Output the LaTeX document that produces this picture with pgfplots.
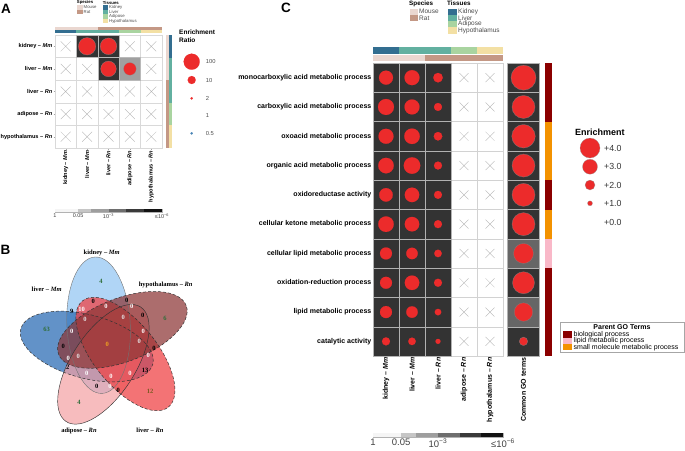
\documentclass[border=0pt]{standalone}
\usepackage{pgfplots}
\pgfplotsset{compat=1.18}
\usepackage{pgfplotstable}
\usepackage{fontspec}
\setmainfont{Liberation Sans}
\newfontfamily\vennfont{Liberation Serif}

\definecolor{cdark}{HTML}{333333}
\definecolor{cgray}{HTML}{A0A0A0}
\definecolor{cmid}{HTML}{666666}
\definecolor{dotred}{HTML}{EC2B2B}
\definecolor{dotblue}{HTML}{4682B4}
\definecolor{tkid}{HTML}{336E90}
\definecolor{tliv}{HTML}{62B0A0}
\definecolor{tadi}{HTML}{A9D4A0}
\definecolor{thyp}{HTML}{F3E0A4}
\definecolor{smou}{HTML}{EAD7D0}
\definecolor{srat}{HTML}{C49885}
\definecolor{gobio}{HTML}{8B0000}
\definecolor{golip}{HTML}{F9B8C8}
\definecolor{gosml}{HTML}{F39200}
\definecolor{vkid}{HTML}{8EC3F2}
\definecolor{vlmm}{HTML}{2E6DB5}
\definecolor{vhyp}{HTML}{8C3535}
\definecolor{vadi}{HTML}{F4A0A3}
\definecolor{vlrn}{HTML}{EF4447}
\definecolor{vgreen}{HTML}{2F6E3A}
\definecolor{volive}{HTML}{7A5A20}
\definecolor{vorange}{HTML}{F0A020}
\definecolor{cb1}{HTML}{F5F5F5}
\definecolor{cb2}{HTML}{C6C6C6}
\definecolor{cb3}{HTML}{9E9E9E}
\definecolor{cb4}{HTML}{6E6E6E}
\definecolor{cb5}{HTML}{3A3A3A}
\definecolor{cb6}{HTML}{121212}

% cell-shaped marks, 1pt = 1px of the reference
\pgfdeclareplotmark{cellA}{\pgfpathrectangle{\pgfpoint{-10.7pt}{-11.3pt}}{\pgfpoint{21.4pt}{22.6pt}}\pgfusepathqfillstroke}
\pgfdeclareplotmark{annAh}{\pgfpathrectangle{\pgfpoint{-10.7pt}{-1.65pt}}{\pgfpoint{21.4pt}{3.3pt}}\pgfusepathqfill}
\pgfdeclareplotmark{annAv}{\pgfpathrectangle{\pgfpoint{-1.65pt}{-11.3pt}}{\pgfpoint{3.3pt}{22.6pt}}\pgfusepathqfill}
\pgfdeclareplotmark{cellC}{\pgfpathrectangle{\pgfpoint{-13pt}{-14.65pt}}{\pgfpoint{26pt}{29.3pt}}\pgfusepathqfillstroke}
\pgfdeclareplotmark{cellCm}{\pgfpathrectangle{\pgfpoint{-16pt}{-14.65pt}}{\pgfpoint{32pt}{29.3pt}}\pgfusepathqfillstroke}
\pgfdeclareplotmark{annCh}{\pgfpathrectangle{\pgfpoint{-13pt}{-3.25pt}}{\pgfpoint{26pt}{6.5pt}}\pgfusepathqfill}
\pgfdeclareplotmark{gobar}{\pgfpathrectangle{\pgfpoint{-3.5pt}{-14.65pt}}{\pgfpoint{7pt}{29.3pt}}\pgfusepathqfill}

\newcommand\rbox[5]{\addplot[fill=#5, draw=none] coordinates {(#1,#2) (#3,#2) (#3,#4) (#1,#4)};}
\newcommand\seg[3]{\addplot[fill=#3, draw=none] coordinates {(#1,0) (#2,0) (#2,1) (#1,1)};}
\newcommand\fA{\fontsize{5.6}{6}\selectfont\bfseries}
\newcommand\fC{\fontsize{7}{8}\selectfont\bfseries}
\newcommand\fV{\vennfont\bfseries\fontsize{6.5}{7}\selectfont}

% panel A: white cells (no enrichment)
\pgfplotstableread{
x y
0 4
3 4
4 4
0 3
1 3
4 3
0 2
1 2
2 2
3 2
4 2
0 1
1 1
2 1
3 1
4 1
0 0
1 0
2 0
3 0
4 0
}\Awhite

% panel C: white cells
\pgfplotstableread{
x y
3 9
4 9
3 8
4 8
3 7
4 7
3 6
4 6
3 5
4 5
3 4
4 4
3 3
4 3
3 2
4 2
3 1
4 1
3 0
4 0
}\Cwhite

\begin{document}
\begin{tikzpicture}
\useasboundingbox (0,0) rectangle (685pt,-450pt);

% ---------------- canvas: legends, letters, Venn ----------------
\begin{axis}[at={(0pt,0pt)}, anchor=north west, width=685pt, height=450pt,
  scale only axis, xmin=0, xmax=685, ymin=0, ymax=450, y dir=reverse,
  hide axis, clip=false]

\node[font=\fontsize{13.5}{14}\selectfont\bfseries] at (axis cs:6,8.5) {A};
\node[font=\fontsize{13.5}{14}\selectfont\bfseries] at (axis cs:5.5,250) {B};
\node[font=\fontsize{13.5}{14}\selectfont\bfseries] at (axis cs:286,8.3) {C};

% A: species / tissues legend
\node[anchor=west, inner sep=0, font=\fontsize{4.3}{4.5}\selectfont\bfseries] at (axis cs:76.7,2.5) {Species};
\rbox{76.7}{5}{82.5}{9.6}{smou}
\rbox{76.7}{9.6}{82.5}{14.2}{srat}
\node[anchor=west, inner sep=0, font=\fontsize{4.3}{4.5}\selectfont, text=black!70] at (axis cs:83.5,7.3) {Mouse};
\node[anchor=west, inner sep=0, font=\fontsize{4.3}{4.5}\selectfont, text=black!70] at (axis cs:83.5,11.9) {Rat};
\node[anchor=west, inner sep=0, font=\fontsize{4.3}{4.5}\selectfont\bfseries] at (axis cs:102.7,2.5) {Tissues};
\rbox{102.7}{5}{108.3}{9.6}{tkid}
\rbox{102.7}{9.6}{108.3}{14.2}{tliv}
\rbox{102.7}{14.2}{108.3}{18.8}{tadi}
\rbox{102.7}{18.8}{108.3}{23.4}{thyp}
\node[anchor=west, inner sep=0, font=\fontsize{4.3}{4.5}\selectfont, text=black!70] at (axis cs:109,7.3) {Kidney};
\node[anchor=west, inner sep=0, font=\fontsize{4.3}{4.5}\selectfont, text=black!70] at (axis cs:109,11.9) {Liver};
\node[anchor=west, inner sep=0, font=\fontsize{4.3}{4.5}\selectfont, text=black!70] at (axis cs:109,16.5) {Adipose};
\node[anchor=west, inner sep=0, font=\fontsize{4.3}{4.5}\selectfont, text=black!70] at (axis cs:109,21.1) {Hypothalamus};

% A: enrichment ratio legend
\node[anchor=west, inner sep=0, font=\fontsize{6.5}{7}\selectfont\bfseries] at (axis cs:179,32.5) {Enrichment};
\node[anchor=west, inner sep=0, font=\fontsize{6.5}{7}\selectfont\bfseries] at (axis cs:179,40) {Ratio};
\addplot[scatter, only marks, mark=*,
  scatter/use mapped color={draw=dotred, fill=dotred},
  visualization depends on={4*abs(log10(\thisrow{v})) \as \rad},
  scatter/@pre marker code/.append style={/tikz/mark size=\rad}, line width=0.1pt] table {
x y v
191.7 61.7 100
191.7 80 10
191.7 98.3 2
};
\addplot[scatter, only marks, mark=*,
  scatter/use mapped color={draw=dotblue, fill=dotblue},
  visualization depends on={4*abs(log10(\thisrow{v})) \as \rad},
  scatter/@pre marker code/.append style={/tikz/mark size=\rad}, line width=0.1pt] table {
x y v
191.7 133.3 0.5
};
\foreach \yy/\lbl in {61.7/100, 80/10, 98.3/2, 115.7/1, 133.3/0.5}{
  \edef\tmp{\noexpand\node[anchor=west, inner sep=0, font=\noexpand\fontsize{5.8}{6}\noexpand\selectfont, text=black!70] at (axis cs:205.7,\yy) {\lbl};}\tmp
}

% C: species / tissues legend
\node[anchor=west, inner sep=0, font=\fontsize{6.3}{6.5}\selectfont\bfseries] at (axis cs:409,3.6) {Species};
\rbox{410}{8.5}{417.5}{14.8}{smou}
\rbox{410}{14.8}{417.5}{21.1}{srat}
\node[anchor=west, inner sep=0, font=\fontsize{6.5}{6.5}\selectfont, text=black!70] at (axis cs:419,11.65) {Mouse};
\node[anchor=west, inner sep=0, font=\fontsize{6.5}{6.5}\selectfont, text=black!70] at (axis cs:419,17.95) {Rat};
\node[anchor=west, inner sep=0, font=\fontsize{6.3}{6.5}\selectfont\bfseries] at (axis cs:447,3.6) {Tissues};
\rbox{448}{8.5}{457}{14.8}{tkid}
\rbox{448}{14.8}{457}{21.1}{tliv}
\rbox{448}{21.1}{457}{27.4}{tadi}
\rbox{448}{27.4}{457}{33.7}{thyp}
\node[anchor=west, inner sep=0, font=\fontsize{6.5}{6.5}\selectfont, text=black!70] at (axis cs:458,11.65) {Kidney};
\node[anchor=west, inner sep=0, font=\fontsize{6.5}{6.5}\selectfont, text=black!70] at (axis cs:458,17.95) {Liver};
\node[anchor=west, inner sep=0, font=\fontsize{6.5}{6.5}\selectfont, text=black!70] at (axis cs:458,24.25) {Adipose};
\node[anchor=west, inner sep=0, font=\fontsize{6.5}{6.5}\selectfont, text=black!70] at (axis cs:458,30.55) {Hypothalamus};

% C: enrichment legend
\node[anchor=west, inner sep=0, font=\fontsize{9}{9}\selectfont\bfseries] at (axis cs:575,132) {Enrichment};
\addplot[scatter, only marks, mark=*,
  scatter/use mapped color={draw=black!40, fill=dotred},
  visualization depends on={2.5*\thisrow{e} \as \rad},
  scatter/@pre marker code/.append style={/tikz/mark size=\rad}, line width=0.2pt] table {
x y e
590 148 4
590 166.7 3
590 185 2
590 203.3 1
};
\foreach \yy/\lbl in {148/+4.0, 166.7/+3.0, 185/+2.0, 203.3/+1.0, 222/+0.0}{
  \edef\tmp{\noexpand\node[anchor=west, inner sep=0, font=\noexpand\fontsize{8.8}{9}\noexpand\selectfont, text=black!80] at (axis cs:604,\yy) {\lbl};}\tmp
}

% C: parent GO terms legend
\addplot[draw=gray!70, fill=white, line width=0.5pt] coordinates {(560,322) (684,322) (684,352.3) (560,352.3) (560,322)};
\node[font=\fontsize{7}{7}\selectfont\bfseries, inner sep=0] at (axis cs:622,327.3) {Parent GO Terms};
\rbox{563}{331.3}{571.5}{337.7}{gobio}
\rbox{563}{337.7}{571.5}{344}{golip}
\rbox{563}{344}{571.5}{350.3}{gosml}
\node[anchor=west, inner sep=0, font=\fontsize{7}{7}\selectfont] at (axis cs:573.5,334.4) {biological process};
\node[anchor=west, inner sep=0, font=\fontsize{7}{7}\selectfont] at (axis cs:573.5,340.8) {lipid metabolic process};
\node[anchor=west, inner sep=0, font=\fontsize{7}{7}\selectfont] at (axis cs:573.5,347.2) {small molecule metabolic process};

% B: Venn diagram, fills first, outlines on top
\fill[vkid, fill opacity=0.7, rotate around={93:(axis cs:98.6,325.2)}]
  (axis cs:98.6,325.2) ellipse [x radius=68.3pt, y radius=31.7pt];
\fill[vlmm, fill opacity=0.75, rotate around={165:(axis cs:86.8,346.5)}]
  (axis cs:86.8,346.5) ellipse [x radius=68.3pt, y radius=31.7pt];
\fill[vadi, fill opacity=0.7, rotate around={-123:(axis cs:103.4,364.3)}]
  (axis cs:103.4,364.3) ellipse [x radius=68.3pt, y radius=31.7pt];
\fill[vlrn, fill opacity=0.75, rotate around={-51:(axis cs:125.4,354)}]
  (axis cs:125.4,354) ellipse [x radius=68.3pt, y radius=31.7pt];
\fill[vhyp, fill opacity=0.72, rotate around={21:(axis cs:122.4,329.9)}]
  (axis cs:122.4,329.9) ellipse [x radius=68.3pt, y radius=31.7pt];
\draw[black!55, line width=0.4pt, rotate around={93:(axis cs:98.6,325.2)}]
  (axis cs:98.6,325.2) ellipse [x radius=68.3pt, y radius=31.7pt];
\draw[black!80, densely dashed, line width=0.5pt, rotate around={165:(axis cs:86.8,346.5)}]
  (axis cs:86.8,346.5) ellipse [x radius=68.3pt, y radius=31.7pt];
\draw[black!80, line width=0.45pt, rotate around={-123:(axis cs:103.4,364.3)}]
  (axis cs:103.4,364.3) ellipse [x radius=68.3pt, y radius=31.7pt];
\draw[black!80, densely dashed, line width=0.5pt, rotate around={-51:(axis cs:125.4,354)}]
  (axis cs:125.4,354) ellipse [x radius=68.3pt, y radius=31.7pt];
\draw[black!80, densely dashed, line width=0.5pt, rotate around={21:(axis cs:122.4,329.9)}]
  (axis cs:122.4,329.9) ellipse [x radius=68.3pt, y radius=31.7pt];

\addplot[draw=none, nodes near coords, point meta=explicit symbolic,
  nodes near coords style={anchor=center, inner sep=0, font=\fV, text=vgreen}] table[meta=l] {
x y l
101 281.7 4
165 318.3 6
46.7 329.3 63
79 402.3 4
};
\addplot[draw=none, nodes near coords, point meta=explicit symbolic,
  nodes near coords style={anchor=center, inner sep=0, font=\fV, text=volive}] table[meta=l] {
x y l
150 391.7 12
};
\addplot[draw=none, nodes near coords, point meta=explicit symbolic,
  nodes near coords style={anchor=center, inner sep=0, font=\fV, text=vorange}] table[meta=l] {
x y l
107.3 344 0
};
\addplot[draw=none, nodes near coords, point meta=explicit symbolic,
  nodes near coords style={anchor=center, inner sep=0, font=\fV, text=black}] table[meta=l] {
x y l
93.3 301.7 0
126.7 300 0
71.7 311.7 9
142.7 315 0
63.3 346.7 0
154 348.3 0
67.7 367.3 2
145 370 13
96.7 386.7 0
118.3 390 0
};
\addplot[draw=none, nodes near coords, point meta=explicit symbolic,
  nodes near coords style={anchor=center, inner sep=0, font=\fV, text=white}] table[meta=l] {
x y l
81.7 309.3 10
106 306.7 0
131.7 306.7 0
71.7 331.7 0
143.3 331.7 0
68.3 358.3 0
148.3 355 0
86.7 373.3 0
111 376.7 0
130 373.3 0
110 386.7 0
};
\addplot[draw=none, nodes near coords, point meta=explicit symbolic,
  nodes near coords style={anchor=center, inner sep=0, font=\fV, text=white!80!gray}] table[meta=l] {
x y l
85 319.3 0
123.3 317.3 0
139.3 341.7 0
78.3 356.7 0
};
\node[font=\fV] at (axis cs:101.7,252.7) {kidney – \textit{Mm}};
\node[font=\fV] at (axis cs:46.7,289.3) {liver – \textit{Mm}};
\node[font=\fV] at (axis cs:165.7,285) {hypothalamus – \textit{Rn}};
\node[font=\fV] at (axis cs:79,430.7) {adipose – \textit{Rn}};
\node[font=\fV] at (axis cs:150,430.7) {liver – \textit{Rn}};
\end{axis}

% ---------------- panel A heatmap ----------------
\begin{axis}[at={(55pt,-35pt)}, anchor=north west, width=107pt, height=113pt,
  scale only axis, xmin=-0.5, xmax=4.5, ymin=-0.5, ymax=4.5, clip=false,
  axis line style={draw=gray!50, line width=0.4pt},
  xtick={0,...,4}, ytick={0,...,4},
  xticklabels={kidney – \textit{Mm}, liver – \textit{Mm}, liver – \textit{Rn}, adipose – \textit{Rn}, hypothalamus – \textit{Rn}},
  yticklabels={hypothalamus – \textit{Rn}, adipose – \textit{Rn}, liver – \textit{Rn}, liver – \textit{Mm}, kidney – \textit{Mm}},
  x tick label style={rotate=90, anchor=east, font=\fA, inner sep=1pt},
  y tick label style={font=\fA, inner sep=1pt},
  tick align=outside, major tick length=1.5pt, tick style={draw=gray!70, line width=0.3pt},
  xtick pos=lower, ytick pos=left]
\addplot[only marks, mark=cellA, mark options={fill=white, draw=gray!30}] table {\Awhite};
\addplot[scatter, only marks, point meta=explicit symbolic,
  scatter/classes={d={mark=cellA, fill=cdark, draw=gray!55}, g={mark=cellA, fill=cgray, draw=gray!55}}]
  table[meta=c] {
x y c
1 4 d
2 4 d
2 3 d
3 3 g
};
\addplot[only marks, mark=x, mark size=7pt, color=gray!60, line width=0.35pt] table {\Awhite};
\addplot[scatter, only marks, mark=*,
  scatter/use mapped color={draw=black!45, fill=dotred},
  visualization depends on={4*log10(\thisrow{r}) \as \rad},
  scatter/@pre marker code/.append style={/tikz/mark size=\rad}, line width=0.2pt] table {
x y r
1 4 150
2 4 120
2 3 90
3 3 38
};
% annotation strips: species and tissue
\addplot[scatter, only marks, point meta=explicit symbolic,
  scatter/classes={M={mark=annAh, fill=smou}, R={mark=annAh, fill=srat},
    K={mark=annAh, fill=tkid}, L={mark=annAh, fill=tliv}, A={mark=annAh, fill=tadi}, H={mark=annAh, fill=thyp}}]
  table[meta=c] {
x y c
0 4.803 M
1 4.803 M
2 4.803 R
3 4.803 R
4 4.803 R
0 4.657 K
1 4.657 L
2 4.657 L
3 4.657 A
4 4.657 H
};
\addplot[scatter, only marks, point meta=explicit symbolic,
  scatter/classes={M={mark=annAv, fill=smou}, R={mark=annAv, fill=srat},
    K={mark=annAv, fill=tkid}, L={mark=annAv, fill=tliv}, A={mark=annAv, fill=tadi}, H={mark=annAv, fill=thyp}}]
  table[meta=c] {
x y c
4.750 4 M
4.750 3 M
4.750 2 R
4.750 1 R
4.750 0 R
4.904 4 K
4.904 3 L
4.904 2 L
4.904 1 A
4.904 0 H
};
\end{axis}

% ---------------- panel A colour bar ----------------
\begin{axis}[at={(55pt,-209.3pt)}, anchor=north west, width=107pt, height=2.6pt,
  scale only axis, xmin=0, xmax=6, ymin=0, ymax=1, ytick=\empty,
  xtick={0,1.30103,3,6}, xticklabels={1,0.05,10\textsuperscript{−3},≤10\textsuperscript{−6}},
  major tick length=0pt, axis line style={draw=gray!60, line width=0.3pt},
  xticklabel style={font=\fontsize{5.5}{6}\selectfont, text=black!75, inner sep=1.5pt}]
\seg{0}{1.30103}{cb1}
\seg{1.30103}{2}{cb2}
\seg{2}{3}{cb3}
\seg{3}{4}{cb4}
\seg{4}{5}{cb5}
\seg{5}{6}{cb6}
\end{axis}

% ---------------- panel C heatmap ----------------
\begin{axis}[at={(373pt,-63pt)}, anchor=north west, width=130pt, height=293pt,
  scale only axis, xmin=-0.5, xmax=4.5, ymin=-0.5, ymax=9.5, clip=false,
  axis line style={draw=gray!60, line width=0.5pt},
  xtick={0,...,4}, ytick={0,...,9}, major tick length=0pt,
  xtick pos=lower, ytick pos=left,
  xticklabels={kidney – \textit{Mm}, liver – \textit{Mm}, liver – \textit{Rn}, adipose – \textit{Rn}, hypothalamus – \textit{Rn}},
  yticklabels={catalytic activity, lipid metabolic process, oxidation-reduction process,
    cellular lipid metabolic process, cellular ketone metabolic process, oxidoreductase activity,
    organic acid metabolic process, oxoacid metabolic process, carboxylic acid metabolic process,
    monocarboxylic acid metabolic process},
  x tick label style={rotate=90, anchor=east, font=\fC, inner sep=1.5pt},
  y tick label style={font=\fC, inner sep=1.5pt}]
\addplot[only marks, mark=cellC, mark options={fill=white, draw=gray!35}] table {\Cwhite};
\addplot[only marks, mark=cellC, mark options={fill=cdark, draw=gray!60}] table {
x y
0 9
1 9
2 9
0 8
1 8
2 8
0 7
1 7
2 7
0 6
1 6
2 6
0 5
1 5
2 5
0 4
1 4
2 4
0 3
1 3
2 3
0 2
1 2
2 2
0 1
1 1
2 1
0 0
1 0
2 0
};
\addplot[only marks, mark=x, mark size=6.3pt, color=gray!60, line width=0.35pt] table {\Cwhite};
\addplot[scatter, only marks, mark=*,
  scatter/use mapped color={draw=dotred, fill=dotred},
  visualization depends on={2.5*\thisrow{e} \as \rad},
  scatter/@pre marker code/.append style={/tikz/mark size=\rad}, line width=0.1pt] table {
x y e
0 9 2.8
1 9 3.0
2 9 1.9
0 8 3.2
1 8 3.0
2 8 1.6
0 7 3.0
1 7 3.1
2 7 1.7
0 6 3.1
1 6 3.3
2 6 1.6
0 5 2.7
1 5 2.9
2 5 1.6
0 4 3.1
1 4 2.9
2 4 1.6
0 3 2.4
1 3 2.3
2 3 1.5
0 2 2.4
1 2 2.9
2 2 1.6
0 1 2.4
1 1 2.3
2 1 1.3
0 0 1.6
1 0 1.5
2 0 1.0
};
\addplot[scatter, only marks, point meta=explicit symbolic,
  scatter/classes={M={mark=annCh, fill=smou}, R={mark=annCh, fill=srat},
    K={mark=annCh, fill=tkid}, L={mark=annCh, fill=tliv}, A={mark=annCh, fill=tadi}, H={mark=annCh, fill=thyp}}]
  table[meta=c] {
x y c
0 9.935 K
1 9.935 L
2 9.935 L
3 9.935 A
4 9.935 H
0 9.679 M
1 9.679 M
2 9.679 R
3 9.679 R
4 9.679 R
};
\end{axis}

% ---------------- panel C common GO terms column ----------------
\begin{axis}[at={(507.5pt,-63pt)}, anchor=north west, width=32pt, height=293pt,
  scale only axis, xmin=-0.5, xmax=0.5, ymin=-0.5, ymax=9.5, clip=false,
  axis line style={draw=none}, ytick=\empty, xtick={0}, xticklabels={Common GO terms},
  major tick length=0pt, xtick pos=lower,
  x tick label style={rotate=90, anchor=east, font=\fC, inner sep=1.5pt}]
\addplot[scatter, only marks, point meta=explicit symbolic,
  scatter/classes={d={mark=cellCm, fill=cdark, draw=gray!60}, m={mark=cellCm, fill=cmid, draw=gray!60}}]
  table[meta=c] {
x y c
0 9 d
0 8 d
0 7 d
0 6 d
0 5 d
0 4 d
0 3 m
0 2 d
0 1 m
0 0 d
};
\addplot[scatter, only marks, mark=*,
  scatter/use mapped color={draw=black!50, fill=dotred},
  visualization depends on={2.5*\thisrow{e} \as \rad},
  scatter/@pre marker code/.append style={/tikz/mark size=\rad}, line width=0.25pt] table {
x y e
0 9 5.0
0 8 4.6
0 7 4.7
0 6 4.6
0 5 4.6
0 4 4.6
0 3 4.0
0 2 4.4
0 1 3.7
0 0 1.7
};
\addplot[scatter, only marks, point meta=explicit symbolic,
  scatter/classes={b={mark=gobar, fill=gobio}, l={mark=gobar, fill=golip}, s={mark=gobar, fill=gosml}}]
  table[meta=c] {
x y c
0.781 9 b
0.781 8 b
0.781 7 s
0.781 6 s
0.781 5 b
0.781 4 s
0.781 3 l
0.781 2 b
0.781 1 b
0.781 0 b
};
\end{axis}

% ---------------- panel C colour bar ----------------
\begin{axis}[at={(373pt,-433pt)}, anchor=north west, width=130pt, height=4pt,
  scale only axis, xmin=0, xmax=6, ymin=0, ymax=1, ytick=\empty,
  xtick={0,1.30103,3,6}, xticklabels={1,0.05,10\textsuperscript{−3},≤10\textsuperscript{−6}},
  major tick length=0pt, axis line style={draw=gray!60, line width=0.3pt},
  xticklabel style={font=\fontsize{9.5}{10}\selectfont, text=black!75, inner sep=1.5pt}]
\seg{0}{1.30103}{cb1}
\seg{1.30103}{2}{cb2}
\seg{2}{3}{cb3}
\seg{3}{4}{cb4}
\seg{4}{5}{cb5}
\seg{5}{6}{cb6}
\end{axis}
\end{tikzpicture}
\end{document}
